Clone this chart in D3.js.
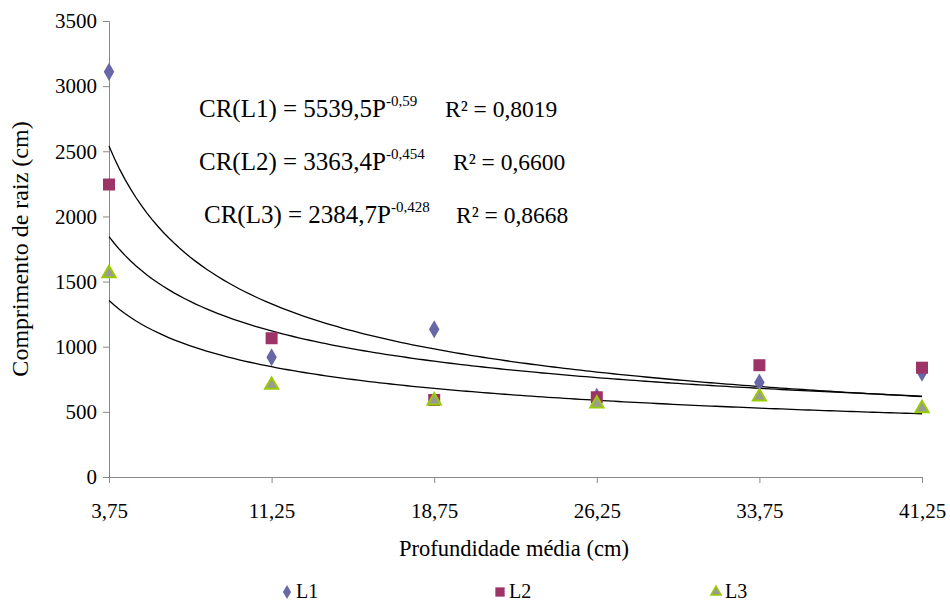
<!DOCTYPE html>
<html>
<head>
<meta charset="utf-8">
<script src="https://cdn.jsdelivr.net/npm/d3@7"></script>
<style>
  body { margin: 0; background: #fff; }
  text { font-family: "Liberation Serif", "Times New Roman", serif; fill: #000; }
</style>
</head>
<body>
<div id="graf"></div>
<script>
// datos
const profundidade = [3.75, 11.25, 18.75, 26.25, 33.75, 41.25]
const yTicks = [0, 500, 1000, 1500, 2000, 2500, 3000, 3500]
const serieL1 = [3110, 919, 1134, 615, 725, 800]
const serieL2 = [2245, 1065, 591, 612, 858, 839]
const serieL3 = [1563, 706, 586, 562, 616, 527]
const coefA = [5539.5, 3363.4, 2384.7]
const coefB = [-0.59, -0.454, -0.428]
const nomes = ['L1', 'L2', 'L3']
const eqA = ['5539,5', '3363,4', '2384,7']
const eqB = ['-0,59', '-0,454', '-0,428']
const eqR2 = ['0,8019', '0,6600', '0,8668']

const ancho_total = 950, alto_total = 604
const margins = { top: 21, left: 109, right: 28, bottom: 127 }
const ancho = ancho_total - margins.left - margins.right
const alto = alto_total - margins.top - margins.bottom
const serif = '"Liberation Serif", "Times New Roman", serif'

const svg = d3.select('#graf').append('svg')
  .attr('width', ancho_total).attr('height', alto_total)

const g = svg.append('g')
  .attr('transform', `translate(${margins.left},${margins.top})`)

const x = d3.scaleLinear().domain([3.75, 41.25]).range([0, ancho])
const y = d3.scaleLinear().domain([0, 3500]).range([alto, 0])

// EJE Y
const yAxis = g.append('g')
  .attr('font-family', serif)
  .call(d3.axisLeft(y).tickValues(yTicks).tickSize(6).tickPadding(6).tickFormat(d3.format('d')))
yAxis.attr('font-family', serif)
yAxis.select('.domain').attr('stroke', '#888')
yAxis.selectAll('.tick line').attr('stroke', '#888')
yAxis.selectAll('text').attr('font-family', serif).style('font-size', '21px')

// EJE X
const xAxis = g.append('g')
  .attr('transform', `translate(0,${alto})`)
  .call(d3.axisBottom(x).tickValues(profundidade).tickSize(6).tickPadding(20)
    .tickFormat(d => d3.format('.2f')(d).replace('.', ',')))
xAxis.attr('font-family', serif)
xAxis.select('.domain').attr('stroke', '#888')
xAxis.selectAll('.tick line').attr('stroke', '#888')
xAxis.selectAll('text').attr('font-family', serif).style('font-size', '21px')

// titulos
svg.append('text')
  .attr('x', 514).attr('y', 556)
  .attr('text-anchor', 'middle')
  .attr('font-family', serif)
  .style('font-size', '22.5px')
  .text('Profundidade média (cm)')

svg.append('text')
  .attr('transform', 'translate(28,249) rotate(-90)')
  .attr('text-anchor', 'middle')
  .attr('font-family', serif)
  .style('font-size', '24px')
  .text('Comprimento de raiz (cm)')

// curvas de tendencia
const xs = d3.range(3.75, 41.26, 0.25)
const line = d3.line().x(d => x(d[0])).y(d => y(d[1]))
coefA.forEach((a, i) => {
  g.append('path')
    .datum(xs.map(p => [p, a * Math.pow(p, coefB[i])]))
    .attr('d', line)
    .attr('fill', 'none')
    .attr('stroke', '#000')
    .attr('stroke-width', 1.3)
})

// puntos
const sym = [d3.symbolDiamond, d3.symbolSquare, d3.symbolTriangle]
const fills = ['#6767a7', '#9c3468', '#999999']
const strokes = ['none', 'none', '#99cc00']
const sizes = [95, 144, 75]
const series = [serieL1, serieL2, serieL3]

series.forEach((s, i) => {
  g.selectAll('.pt' + i)
    .data(s.map((v, j) => [profundidade[j], v]))
    .enter().append('path')
    .attr('class', 'pt' + i)
    .attr('transform', d => `translate(${x(d[0])},${y(d[1])})`)
    .attr('d', d3.symbol().type(sym[i]).size(sizes[i]))
    .attr('fill', fills[i])
    .attr('stroke', strokes[i])
    .attr('stroke-width', 2)
})

// ecuaciones
const eqX = [199, 199, 204]
const eqY = [117, 170, 223]
const r2X = [445, 453, 456]
eqA.forEach((a, i) => {
  const t = svg.append('text')
    .attr('x', eqX[i]).attr('y', eqY[i])
    .attr('font-family', serif)
    .style('font-size', '25px')
  t.append('tspan').text(`CR(${nomes[i]}) = ${a}P`)
  t.append('tspan').attr('dy', -11).style('font-size', '15px').text(eqB[i])
  svg.append('text')
    .attr('x', r2X[i]).attr('y', eqY[i])
    .attr('font-family', serif)
    .style('font-size', '23.5px')
    .text(`R² = ${eqR2[i]}`)
})

// LEYENDAS
const legX = [287, 500, 716]
nomes.forEach((n, i) => {
  svg.append('path')
    .attr('transform', `translate(${legX[i]},592)`)
    .attr('d', d3.symbol().type(sym[i]).size(sizes[i] * 0.6))
    .attr('fill', fills[i])
    .attr('stroke', strokes[i])
    .attr('stroke-width', 1.5)
  svg.append('text')
    .attr('x', legX[i] + 9).attr('y', 598)
    .attr('font-family', serif)
    .style('font-size', '20px')
    .text(n)
})
</script>
</body>
</html>
